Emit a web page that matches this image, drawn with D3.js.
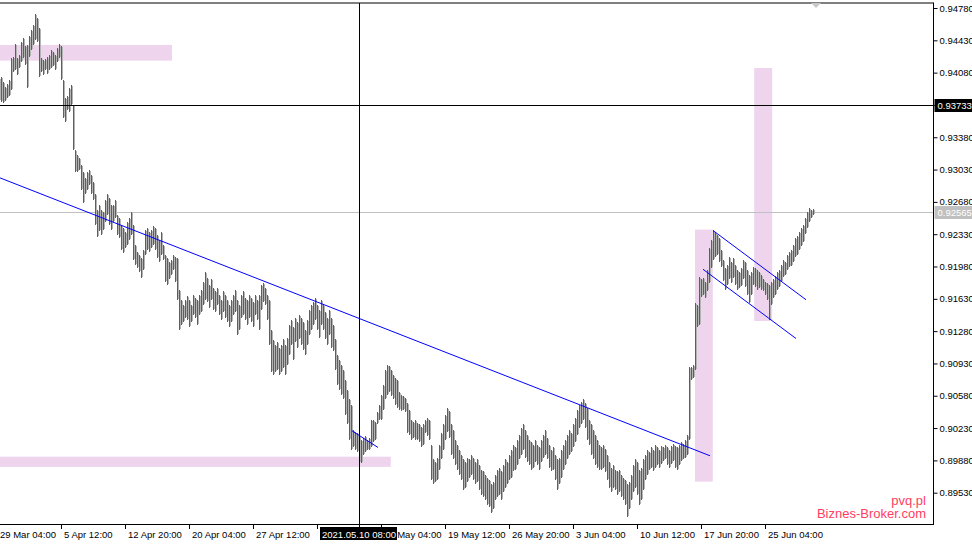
<!DOCTYPE html>
<html>
<head>
<meta charset="utf-8">
<script src="https://cdn.jsdelivr.net/npm/d3@7"></script>
<style>
  html, body { margin: 0; padding: 0; background: #ffffff; }
  svg { display: block; }
  text { font-family: "Liberation Sans", Arial, sans-serif; }
</style>
</head>
<body>
<svg id="chart" width="972" height="546"></svg>
<script>
// ---- DATA (H4 bars, index 0 = 29 Mar 04:00) ----
const highs = [
0.9400,0.9402,0.9403,0.9398,0.9392,0.9396,0.9400,0.9424,0.9425,0.9439,
0.9424,0.9427,0.9441,0.9445,0.9437,0.9438,0.9448,0.9454,0.9460,0.9471,
0.9467,0.9456,0.9424,0.9422,0.9423,0.9425,0.9427,0.9432,0.9430,0.9427,
0.9435,0.9439,0.9437,0.9400,0.9381,0.9383,0.9391,0.9395,0.9373,0.9324,
0.9319,0.9316,0.9308,0.9300,0.9294,0.9300,0.9303,0.9297,0.9290,0.9276,
0.9259,0.9265,0.9259,0.9257,0.9270,0.9276,0.9272,0.9265,0.9265,0.9270,
0.9254,0.9251,0.9243,0.9240,0.9235,0.9246,0.9250,0.9257,0.9243,0.9221,
0.9214,0.9211,0.9207,0.9216,0.9238,0.9240,0.9235,0.9238,0.9242,0.9240,
0.9232,0.9227,0.9235,0.9221,0.9211,0.9207,0.9203,0.9205,0.9211,0.9208,
0.9207,0.9173,0.9162,0.9156,0.9162,0.9166,0.9162,0.9156,0.9167,0.9164,
0.9162,0.9167,0.9173,0.9181,0.9192,0.9186,0.9178,0.9184,0.9175,0.9171,
0.9175,0.9167,0.9162,0.9171,0.9167,0.9162,0.9156,0.9162,0.9167,0.9173,
0.9162,0.9156,0.9167,0.9171,0.9164,0.9162,0.9167,0.9164,0.9160,0.9167,
0.9162,0.9167,0.9178,0.9180,0.9175,0.9167,0.9162,0.9129,0.9118,0.9113,
0.9116,0.9110,0.9113,0.9119,0.9113,0.9121,0.9135,0.9140,0.9132,0.9142,
0.9138,0.9146,0.9142,0.9138,0.9129,0.9140,0.9151,0.9156,0.9160,0.9164,
0.9156,0.9151,0.9162,0.9156,0.9149,0.9142,0.9151,0.9142,0.9135,0.9119,
0.9102,0.9097,0.9091,0.9086,0.9075,0.9064,0.9054,0.9048,0.9021,0.9019,
0.9018,0.9014,0.9010,0.9012,0.9014,0.9010,0.9012,0.9032,0.9032,0.9030,
0.9040,0.9048,0.9059,0.9070,0.9086,0.9091,0.9090,0.9086,0.9081,0.9077,
0.9075,0.9062,0.9059,0.9058,0.9056,0.9050,0.9043,0.9032,0.9030,0.9032,
0.9029,0.9027,0.9024,0.9027,0.9032,0.9034,0.9032,0.9005,0.8989,0.8986,
0.8991,0.9005,0.9018,0.9027,0.9037,0.9045,0.9041,0.9027,0.9021,0.9010,
0.9005,0.8999,0.8994,0.8989,0.8986,0.8991,0.8989,0.8994,0.8991,0.8986,
0.8989,0.8983,0.8978,0.8976,0.8972,0.8969,0.8967,0.8962,0.8965,0.8972,
0.8978,0.8980,0.8976,0.8983,0.8989,0.8986,0.8994,0.8999,0.9005,0.9002,
0.9010,0.9015,0.9023,0.9027,0.9021,0.9015,0.9010,0.9008,0.9005,0.9010,
0.9005,0.9002,0.9010,0.9015,0.9021,0.9012,0.9005,0.8999,0.9002,0.8994,
0.8989,0.8991,0.8999,0.9005,0.9010,0.9015,0.9021,0.9018,0.9027,0.9034,
0.9043,0.9048,0.9051,0.9054,0.9050,0.9045,0.9032,0.9027,0.9021,0.9015,
0.9010,0.9005,0.9002,0.9005,0.9000,0.8994,0.8986,0.8980,0.8983,0.8978,
0.8976,0.8978,0.8972,0.8969,0.8967,0.8962,0.8965,0.8972,0.8983,0.8989,
0.8986,0.8978,0.8980,0.8989,0.8994,0.8999,0.8997,0.9002,0.8999,0.9005,
0.9002,0.8999,0.9004,0.9002,0.9005,0.9002,0.8999,0.9004,0.9006,0.9004,
0.9002,0.9005,0.9008,0.9006,0.9010,0.9015,0.9089,0.9089,0.9091,0.9159,
0.9156,0.9187,0.9184,0.9186,0.9181,0.9194,0.9218,0.9227,0.9238,0.9235,
0.9232,0.9229,0.9216,0.9205,0.9196,0.9200,0.9208,0.9203,0.9207,0.9200,
0.9194,0.9192,0.9196,0.9205,0.9203,0.9194,0.9189,0.9192,0.9198,0.9196,
0.9194,0.9192,0.9189,0.9184,0.9181,0.9180,0.9178,0.9181,0.9184,0.9188,
0.9192,0.9194,0.9200,0.9205,0.9203,0.9210,0.9214,0.9216,0.9221,0.9229,
0.9231,0.9235,0.9240,0.9243,0.9251,0.9257,0.9261,0.9259,0.9260
];
const lows = [
0.9378,0.9377,0.9376,0.9375,0.9377,0.9381,0.9383,0.9389,0.9409,0.9411,
0.9405,0.9413,0.9419,0.9424,0.9416,0.9391,0.9425,0.9432,0.9438,0.9443,
0.9441,0.9403,0.9409,0.9405,0.9411,0.9407,0.9411,0.9413,0.9415,0.9411,
0.9420,0.9424,0.9400,0.9359,0.9355,0.9368,0.9365,0.9373,0.9324,0.9300,
0.9300,0.9303,0.9281,0.9267,0.9276,0.9281,0.9286,0.9276,0.9270,0.9243,
0.9230,0.9236,0.9232,0.9238,0.9246,0.9254,0.9243,0.9238,0.9246,0.9251,
0.9232,0.9229,0.9216,0.9213,0.9218,0.9221,0.9227,0.9232,0.9205,0.9200,
0.9196,0.9192,0.9186,0.9194,0.9211,0.9216,0.9214,0.9218,0.9221,0.9216,
0.9207,0.9203,0.9211,0.9205,0.9181,0.9178,0.9184,0.9189,0.9194,0.9181,
0.9162,0.9129,0.9135,0.9138,0.9142,0.9140,0.9132,0.9138,0.9146,0.9142,
0.9135,0.9146,0.9149,0.9156,0.9162,0.9160,0.9153,0.9162,0.9151,0.9149,
0.9156,0.9146,0.9140,0.9149,0.9142,0.9138,0.9132,0.9138,0.9146,0.9149,
0.9124,0.9129,0.9142,0.9146,0.9140,0.9135,0.9142,0.9138,0.9132,0.9146,
0.9140,0.9129,0.9151,0.9160,0.9156,0.9140,0.9113,0.9084,0.9081,0.9084,
0.9086,0.9080,0.9084,0.9088,0.9081,0.9091,0.9102,0.9113,0.9097,0.9116,
0.9110,0.9119,0.9113,0.9108,0.9102,0.9113,0.9124,0.9129,0.9135,0.9140,
0.9129,0.9121,0.9135,0.9129,0.9119,0.9113,0.9124,0.9110,0.9106,0.9086,
0.9070,0.9064,0.9059,0.9054,0.9037,0.9027,0.9010,0.8999,0.9002,0.8999,
0.8997,0.8985,0.8985,0.8994,0.8997,0.8999,0.8999,0.9003,0.9008,0.9010,
0.9027,0.9032,0.9032,0.9043,0.9054,0.9059,0.9062,0.9058,0.9054,0.9048,
0.9045,0.9043,0.9041,0.9043,0.9040,0.9018,0.9016,0.9010,0.9012,0.9010,
0.9010,0.9008,0.9002,0.9005,0.9018,0.9014,0.9010,0.8967,0.8962,0.8965,
0.8967,0.8978,0.8989,0.8999,0.9010,0.9019,0.9012,0.8994,0.8989,0.8983,
0.8978,0.8972,0.8967,0.8956,0.8958,0.8965,0.8969,0.8972,0.8967,0.8962,
0.8965,0.8956,0.8951,0.8948,0.8945,0.8940,0.8937,0.8931,0.8935,0.8945,
0.8948,0.8951,0.8945,0.8954,0.8958,0.8962,0.8967,0.8969,0.8976,0.8978,
0.8983,0.8989,0.8994,0.8999,0.8991,0.8986,0.8983,0.8978,0.8980,0.8986,
0.8983,0.8978,0.8986,0.8991,0.8994,0.8989,0.8980,0.8976,0.8978,0.8967,
0.8956,0.8962,0.8969,0.8978,0.8983,0.8989,0.8994,0.8997,0.9002,0.9008,
0.9016,0.9023,0.9027,0.9032,0.9023,0.9010,0.9005,0.8994,0.8989,0.8983,
0.8980,0.8978,0.8978,0.8980,0.8975,0.8967,0.8958,0.8954,0.8958,0.8956,
0.8951,0.8954,0.8948,0.8945,0.8940,0.8927,0.8935,0.8945,0.8954,0.8958,
0.8951,0.8940,0.8945,0.8956,0.8967,0.8972,0.8978,0.8980,0.8976,0.8980,
0.8983,0.8980,0.8984,0.8987,0.8989,0.8983,0.8980,0.8984,0.8987,0.8980,
0.8978,0.8983,0.8987,0.8989,0.8991,0.8994,0.9010,0.9075,0.9077,0.9086,
0.9132,0.9135,0.9165,0.9167,0.9164,0.9171,0.9180,0.9196,0.9205,0.9208,
0.9211,0.9203,0.9198,0.9182,0.9173,0.9178,0.9184,0.9180,0.9186,0.9178,
0.9173,0.9175,0.9177,0.9184,0.9176,0.9167,0.9159,0.9167,0.9178,0.9176,
0.9173,0.9175,0.9173,0.9171,0.9167,0.9162,0.9140,0.9156,0.9164,0.9167,
0.9173,0.9176,0.9181,0.9187,0.9189,0.9194,0.9197,0.9199,0.9203,0.9208,
0.9211,0.9216,0.9220,0.9225,0.9233,0.9240,0.9246,0.9251,0.9254
];
const priceTicks = [0.94780,0.94430,0.94080,0.93730,0.93380,0.93030,0.92680,0.92330,
  0.91980,0.91630,0.91280,0.90930,0.90580,0.90230,0.89880,0.89530];
const timeLabels = ["29 Mar 04:00","5 Apr 12:00","12 Apr 20:00","20 Apr 04:00","27 Apr 12:00",
  "4 May 20:00","12 May 04:00","19 May 12:00","26 May 20:00","3 Jun 04:00","10 Jun 12:00",
  "17 Jun 20:00","25 Jun 04:00"];
const labelEvery = 32;           // bars between time labels
const currentPrice = 0.92565;
const crossPrice = 0.93733;
const crossIndex = 181;
const crossTimeLabel = "2021.05.10 08:00";
// zones: [startIndex, endIndex, topPrice, bottomPrice]
const zones = [
  [-3, 87.5, 0.9438, 0.9421],
  [-3, 196.9, 0.8992, 0.8981],
  [349, 357.9, 0.9238, 0.8965],
  [378.6, 387.6, 0.9413, 0.9139]
];
// trend lines: [i1, p1, i2, p2]
const trendLines = [
  [1.5, 0.9294, 356.5, 0.8993],
  [177.5, 0.9020, 190.5, 0.9002],
  [358, 0.9237, 404.5, 0.9162],
  [353, 0.9195, 399.5, 0.9120]
];

// ---- LAYOUT ----
const W = 972, H = 546;
const plotRight = 933.5, plotTop = 3, plotBottom = 524;
const svg = d3.select("#chart");
const x = d3.scaleLinear().domain([0, 408]).range([-3, 813]);
const y = d3.scaleLinear().domain([0.89530, 0.94780]).range([492.7, 8]);

svg.append("defs").append("clipPath").attr("id", "plotclip")
  .append("rect").attr("x", 0).attr("y", plotTop).attr("width", plotRight).attr("height", plotBottom - plotTop);

const plot = svg.append("g").attr("clip-path", "url(#plotclip)");

// zones
plot.selectAll("rect.zone").data(zones).join("rect")
  .attr("class", "zone")
  .attr("x", d => x(d[0]))
  .attr("width", d => x(d[1]) - x(d[0]))
  .attr("y", d => y(d[2]))
  .attr("height", d => y(d[3]) - y(d[2]))
  .attr("fill", "#efd4ee");

// current price line
plot.append("line")
  .attr("x1", 0).attr("x2", plotRight)
  .attr("y1", Math.round(y(currentPrice)) + 0.5).attr("y2", Math.round(y(currentPrice)) + 0.5)
  .attr("stroke", "#c0c0c0").attr("stroke-width", 1);

// bars
const idx = d3.range(highs.length);
plot.selectAll("rect.bar").data(idx).join("rect")
  .attr("class", "bar")
  .attr("x", i => Math.round(x(i)))
  .attr("width", 1)
  .attr("y", i => Math.round(y(highs[i])))
  .attr("height", i => Math.max(1, Math.round(y(lows[i])) - Math.round(y(highs[i]))))
  .attr("fill", "#5e5e5e");
plot.selectAll("rect.bar2").data(idx).join("rect")
  .attr("class", "bar2")
  .attr("x", i => Math.round(x(i)) + 1)
  .attr("width", 1)
  .attr("y", i => Math.round(y(highs[i])) + 1)
  .attr("height", i => Math.max(1, Math.round(y(lows[i])) - Math.round(y(highs[i])) - 2))
  .attr("fill", "#b4b4b4");

// trend lines
plot.selectAll("line.trend").data(trendLines).join("line")
  .attr("class", "trend")
  .attr("x1", d => x(d[0])).attr("y1", d => y(d[1]))
  .attr("x2", d => x(d[2])).attr("y2", d => y(d[3]))
  .attr("stroke", "#0000ff").attr("stroke-width", 1);

// crosshair
const cy = Math.round(y(crossPrice)) + 0.5;
const cx = Math.round(x(crossIndex)) + 0.5;
svg.append("line").attr("x1", 0).attr("x2", plotRight).attr("y1", cy).attr("y2", cy)
  .attr("stroke", "#000").attr("stroke-width", 1);
svg.append("line").attr("x1", cx).attr("x2", cx).attr("y1", plotTop).attr("y2", plotBottom + 5)
  .attr("stroke", "#000").attr("stroke-width", 1);

// frame
svg.append("line").attr("x1", 0).attr("x2", plotRight).attr("y1", plotTop).attr("y2", plotTop)
  .attr("stroke", "#000");
svg.append("line").attr("x1", 0).attr("x2", plotRight).attr("y1", plotBottom + 0.5).attr("y2", plotBottom + 0.5)
  .attr("stroke", "#000");
svg.append("line").attr("x1", plotRight).attr("x2", plotRight).attr("y1", plotTop - 0.5).attr("y2", plotBottom + 1)
  .attr("stroke", "#000");

// chart shift marker
svg.append("path").attr("d", "M811,3 L821,3 L816,8 Z").attr("fill", "#c8c8c8");

// right price axis
const yAxis = d3.axisRight(y).tickValues(priceTicks).tickSize(4).tickPadding(2)
  .tickFormat(d3.format(".5f"));
const ya = svg.append("g").attr("transform", `translate(${plotRight},0)`).call(yAxis);
ya.select(".domain").remove();
ya.selectAll("line").attr("stroke", "#000");
ya.selectAll("text").attr("font-size", "9.5px").attr("fill", "#000")
  .attr("font-family", "Liberation Sans, Arial, sans-serif");

// bottom time axis
const tIdx = timeLabels.map((t, k) => k * labelEvery);
const xa = svg.append("g");
xa.selectAll("line").data(tIdx).join("line")
  .attr("x1", i => Math.round(x(i)) + 0.5).attr("x2", i => Math.round(x(i)) + 0.5)
  .attr("y1", plotBottom).attr("y2", plotBottom + 5).attr("stroke", "#000");
xa.selectAll("text").data(timeLabels).join("text")
  .attr("x", (t, k) => Math.round(x(tIdx[k])) + 3)
  .attr("y", 538)
  .attr("font-size", "9.5px").attr("fill", "#000")
  .text(t => t);

// price labels on axis
function axisTag(price, bg, fg) {
  const yy = Math.round(y(price));
  svg.append("rect").attr("x", plotRight + 1).attr("y", yy - 6).attr("width", W - plotRight).attr("height", 13)
    .attr("fill", bg);
  svg.append("text").attr("x", plotRight + 4).attr("y", yy + 4)
    .attr("font-size", "9.5px").attr("fill", fg).text(d3.format(".5f")(price));
}
axisTag(currentPrice, "#c0c0c0", "#ffffff");
axisTag(crossPrice, "#000000", "#ffffff");

// time tag
const tagX = Math.round(x(crossIndex));
svg.append("rect").attr("x", tagX - 39).attr("y", 527).attr("width", 77).attr("height", 13).attr("fill", "#000");
svg.append("text").attr("x", tagX).attr("y", 537.5).attr("text-anchor", "middle")
  .attr("font-size", "9.5px").attr("fill", "#fff").text(crossTimeLabel);

// watermark
svg.append("text").attr("x", 926).attr("y", 505).attr("text-anchor", "end")
  .attr("font-size", "13px").attr("fill", "#ff3d5f").text("pvq.pl");
svg.append("text").attr("x", 926).attr("y", 518).attr("text-anchor", "end")
  .attr("font-size", "13px").attr("fill", "#ff3d5f").text("Biznes-Broker.com");
</script>
</body>
</html>
